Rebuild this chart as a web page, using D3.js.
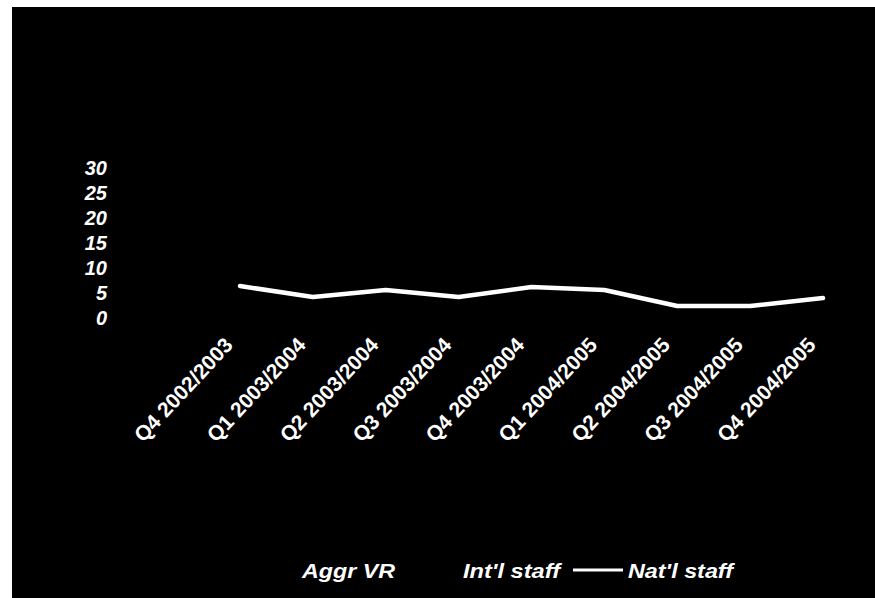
<!DOCTYPE html>
<html>
<head>
  <script src="https://d3js.org/d3.v7.min.js"></script>
  <style>
    body { margin: 0; background: #fff; }
    svg { display: block; }
    text { font-family: "Liberation Sans", Arial, sans-serif; fill: #fff; }
  </style>
</head>
<body>
  <svg id="chart" width="875" height="598"></svg>
  <script>
    // quarters on the x axis
    const quarters = ["Q4 2002/2003", "Q1 2003/2004", "Q2 2003/2004", "Q3 2003/2004",
      "Q4 2003/2004", "Q1 2004/2005", "Q2 2004/2005", "Q3 2004/2005", "Q4 2004/2005"];
    // Nat'l staff vacancy rate (only visible series)
    const natStaff = [6.4, 4.2, 5.6, 4.2, 6.2, 5.6, 2.4, 2.4, 4.0];
    const yTicks = [0, 5, 10, 15, 20, 25, 30];
    const legendNames = ["Aggr VR", "Int'l staff", "Nat'l staff"];
    const legendColors = ["#000", "#000", "#fff"];

    const svg = d3.select("#chart");

    // black plot background with white margin at left/top
    svg.append("rect").attr("x", 12).attr("y", 7).attr("width", 863).attr("height", 591).attr("fill", "#000");

    const x = d3.scalePoint().domain(quarters).range([240, 823]);
    const y = d3.scaleLinear().domain([0, 30]).range([318, 168]);

    // y labels
    svg.append("g").selectAll("text")
      .data(yTicks)
      .enter().append("text")
      .attr("x", 107)
      .attr("y", d => y(d))
      .attr("dy", "0.35em")
      .attr("text-anchor", "end")
      .style("font-size", "20px")
      .style("font-weight", "bold")
      .style("font-style", "italic")
      .text(d => d);

    // x labels, rotated
    svg.append("g").selectAll("text")
      .data(quarters)
      .enter().append("text")
      .attr("transform", d => `translate(${x(d) - 6}, 346) rotate(-47)`)
      .attr("text-anchor", "end")
      .style("font-size", "21px")
      .style("font-weight", "bold")
      .text(d => d);

    const line = d3.line()
      .x((d, i) => x(quarters[i]))
      .y(d => y(d));

    svg.append("path")
      .datum(natStaff)
      .attr("d", line)
      .attr("fill", "none")
      .attr("stroke", "#fff")
      .attr("stroke-width", 4.5)
      .attr("stroke-linejoin", "round")
      .attr("stroke-linecap", "round");

    // legend
    const legendX = [302, 463, 628];
    const legendW = [93, 97, 105];
    const legend = svg.append("g");
    legendNames.forEach((name, i) => {
      if (i > 0) {
        legend.append("line")
          .attr("x1", legendX[i] - 55).attr("x2", legendX[i] - 5)
          .attr("y1", 570).attr("y2", 570)
          .attr("stroke", legendColors[i]).attr("stroke-width", 3);
      }
      legend.append("text")
        .attr("x", legendX[i])
        .attr("y", 578)
        .attr("textLength", legendW[i])
        .attr("lengthAdjust", "spacingAndGlyphs")
        .style("font-size", "21px")
        .style("font-weight", "bold")
        .style("font-style", "italic")
        .text(name);
    });
  </script>
</body>
</html>
